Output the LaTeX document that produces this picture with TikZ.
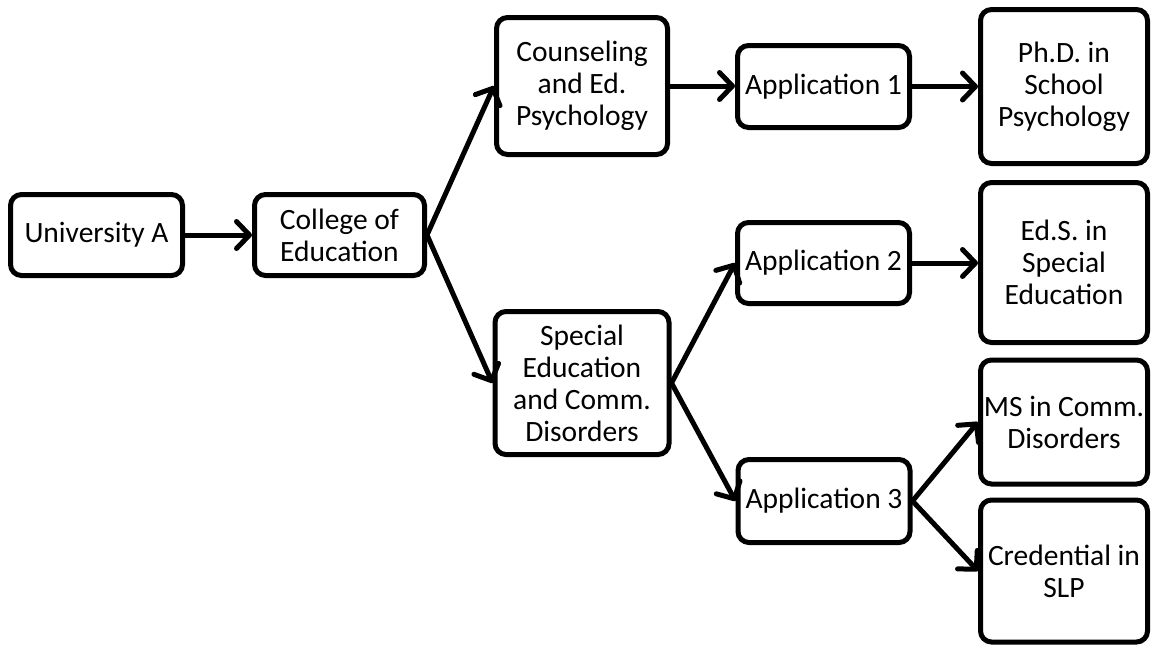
\documentclass[tikz,border=0pt]{standalone}
\usepackage{fontspec}
\setmainfont{Carlito}
\usetikzlibrary{arrows.meta}
\begin{document}
\begin{tikzpicture}[x=1pt,y=-1pt,
  box/.style={draw=black, line width=5pt, rounded corners=11pt, align=center,
    inner sep=0pt, font=\fontsize{29.5}{32}\selectfont},
  conn/.style={line width=5pt, -{Straight Barb[length=13pt,width=27pt,round]}}]
\useasboundingbox (0,0) rectangle (1151,648);
\fill[white] (0,0) rectangle (1151,648);
\node[box, minimum width=172pt, minimum height=81pt] (univ) at (96.5,235) {University A};
\node[box, minimum width=170pt, minimum height=81pt] (college) at (339.5,235) {College of\\Education};
\node[box, minimum width=171pt, minimum height=137pt] (couns) at (582,86) {Counseling\\and Ed.\\Psychology};
\node[box, minimum width=172pt, minimum height=82pt] (app1) at (823.5,86.5) {Application 1};
\node[box, minimum width=167pt, minimum height=154pt] (phd) at (1064,86.5) {Ph.D. in\\School\\Psychology};
\node[box, minimum width=172pt, minimum height=81pt] (app2) at (823.5,263) {Application 2};
\node[box, minimum width=167pt, minimum height=160pt] (eds) at (1064,262.5) {Ed.S. in\\Special\\Education};
\node[box, minimum width=174pt, minimum height=143pt] (spec) at (582,383) {Special\\Education\\and Comm.\\Disorders};
\node[box, minimum width=172pt, minimum height=83pt] (app3) at (824,501) {Application 3};
\node[box, minimum width=167pt, minimum height=124pt] (ms) at (1064,422) {MS in Comm.\\Disorders};
\node[box, minimum width=167pt, minimum height=142pt] (cred) at (1064,571) {Credential in\\SLP};
\draw[conn] (univ.east) -- (college.west);
\draw[conn] (college.east) -- (couns.west);
\draw[conn] (college.east) -- (spec.west);
\draw[conn] (couns.east) -- (couns.east -| app1.west);
\draw[conn] (app1.east) -- (app1.east -| phd.west);
\draw[conn] (spec.east) -- (app2.west);
\draw[conn] (spec.east) -- (app3.west);
\draw[conn] (app2.east) -- (app2.east -| eds.west);
\draw[conn] (app3.east) -- (ms.west);
\draw[conn] (app3.east) -- (cred.west);
\end{tikzpicture}
\end{document}
